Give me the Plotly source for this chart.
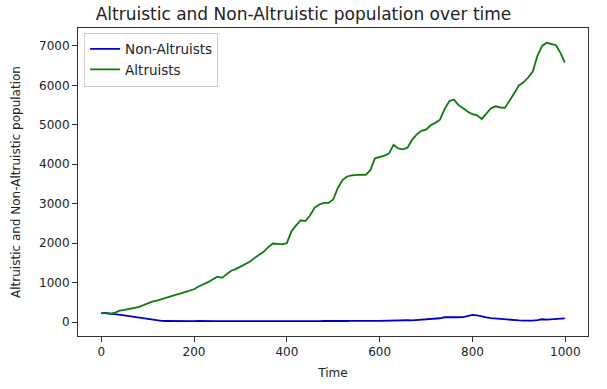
import plotly.graph_objects as go

time_points = [0, 10, 20, 30, 40, 50, 60, 70, 80, 90,
               100, 110, 120, 130, 140, 150, 160, 170, 180, 190,
               200, 210, 220, 230, 240, 250, 260, 270, 280, 290,
               300, 310, 320, 330, 340, 350, 360, 370, 380, 390,
               400, 410, 420, 430, 440, 450, 460, 470, 480, 490,
               500, 510, 520, 530, 540, 550, 560, 570, 580, 590,
               600, 610, 620, 630, 640, 650, 660, 670, 680, 690,
               700, 710, 720, 730, 740, 750, 760, 770, 780, 790,
               800, 810, 820, 830, 840, 850, 860, 870, 880, 890,
               900, 910, 920, 930, 940, 950, 960, 970, 980, 990, 999]

altruists = [230, 225, 210, 240, 290, 310, 330, 345, 380, 420,
             470, 515, 540, 580, 630, 650, 690, 720, 760, 790,
             830, 900, 950, 1010, 1080, 1150, 1120, 1220, 1300, 1340,
             1400, 1480, 1530, 1620, 1700, 1780, 1900, 1990, 1980, 1970,
             2000, 2300, 2450, 2580, 2560, 2700, 2900, 2980, 3020, 3020,
             3110, 3400, 3600, 3690, 3720, 3730, 3740, 3730, 3850, 4150,
             4180, 4220, 4270, 4490, 4400, 4380, 4420, 4620, 4760, 4850,
             4880, 4990, 5050, 5130, 5400, 5600, 5640, 5500, 5420, 5330,
             5270, 5240, 5150, 5280, 5420, 5470, 5440, 5430, 5600, 5800,
             6000, 6080, 6200, 6350, 6750, 7000, 7080, 7040, 7020, 6820, 6580]

non_altruists = [220, 230, 210, 200, 180, 170, 150, 130, 110, 90,
                 70, 50, 35, 28, 25, 22, 20, 22, 24, 20,
                 22, 25, 20, 22, 24, 22, 20, 25, 22, 20,
                 22, 24, 20, 22, 25, 22, 20, 24, 22, 20,
                 22, 25, 22, 20, 24, 22, 20, 22, 25, 22,
                 20, 24, 22, 25, 28, 25, 22, 26, 30, 28,
                 30, 35, 32, 38, 35, 40, 45, 42, 50, 55,
                 60, 70, 80, 95, 120, 115, 110, 120, 125, 150,
                 180, 170, 140, 120, 100, 90, 65, 60, 50, 45,
                 40, 35, 30, 35, 50, 70, 60, 65, 80, 85, 90]

title_text = "Altruistic and Non-Altruistic population over time"
x_label = "Time"
y_label = "Altruistic and Non-Altruistic population"

fig = go.Figure()
fig.add_trace(go.Scatter(x=time_points, y=non_altruists, mode="lines",
                         name="Non-Altruists", line=dict(color="#0000cc", width=1.8)))
fig.add_trace(go.Scatter(x=time_points, y=altruists, mode="lines",
                         name="Altruists", line=dict(color="#0a7a0a", width=1.8)))

font_family = "DejaVu Sans, sans-serif"
fig.update_layout(
    width=607, height=389,
    margin=dict(l=78, r=19, t=28, b=53),
    paper_bgcolor="white", plot_bgcolor="white",
    font=dict(family=font_family, size=12, color="#222"),
    title=dict(text=title_text, x=0.5, xanchor="center", y=0.964, yanchor="middle",
               font=dict(size=17, color="#222")),
    showlegend=True,
    legend=dict(x=0.012, y=0.985, xanchor="left", yanchor="top",
                bgcolor="rgba(255,255,255,0.8)", bordercolor="#cccccc", borderwidth=1,
                font=dict(size=13.5, color="#222"), tracegroupgap=0,
                itemwidth=30),
)
fig.update_xaxes(range=[-50, 1049], tickvals=[0, 200, 400, 600, 800, 1000],
                 ticks="outside", ticklen=5, tickcolor="#333", showgrid=False,
                 zeroline=False, showline=True, linecolor="#333", linewidth=1, mirror=True,
                 automargin=False,
                 title=dict(text=x_label, standoff=10, font=dict(size=12)), tickfont=dict(size=12))
fig.update_yaxes(range=[-355, 7456], tickvals=[0, 1000, 2000, 3000, 4000, 5000, 6000, 7000],
                 ticks="outside", ticklen=5, tickcolor="#333", showgrid=False,
                 zeroline=False, showline=True, linecolor="#333", linewidth=1, mirror=True,
                 automargin=False,
                 title=dict(text=y_label, standoff=15, font=dict(size=12)), tickfont=dict(size=12))

fig.write_html("out.html", config={"displayModeBar": False},
               post_script="document.body.style.margin='0';")
